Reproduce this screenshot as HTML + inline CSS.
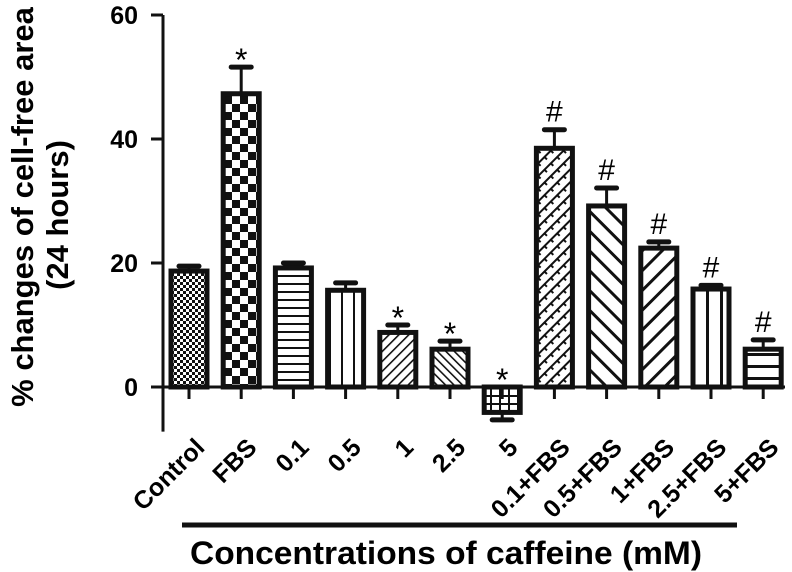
<!DOCTYPE html>
<html><head><meta charset="utf-8"><style>
html,body{margin:0;padding:0;background:#fff;}
svg{display:block;font-family:"Liberation Sans",Arial,sans-serif;font-weight:bold;}
</style></head><body>
<svg id="chart" width="792" height="572" viewBox="0 0 792 572">
<defs>
<pattern id="p0" width="6" height="6" patternUnits="userSpaceOnUse"><rect width="6" height="6" fill="#fff"/><rect width="3" height="3" fill="#111"/><rect x="3" y="3" width="3" height="3" fill="#111"/></pattern>
<pattern id="p1" width="16" height="16" patternUnits="userSpaceOnUse"><rect width="16" height="16" fill="#fff"/><rect width="8" height="8" fill="#111"/><rect x="8" y="8" width="8" height="8" fill="#111"/></pattern>
<pattern id="p2" width="10" height="8" patternUnits="userSpaceOnUse"><rect width="10" height="8" fill="#fff"/><rect y="3" width="10" height="2" fill="#111"/></pattern>
<pattern id="p3" width="12" height="10" patternUnits="userSpaceOnUse"><rect width="12" height="10" fill="#fff"/><rect x="5" width="2" height="10" fill="#111"/></pattern>
<pattern id="p4" width="7" height="7" patternUnits="userSpaceOnUse" patternTransform="rotate(45)"><rect width="7" height="7" fill="#fff"/><rect width="1.6" height="7" fill="#111"/></pattern>
<pattern id="p5" width="6" height="6" patternUnits="userSpaceOnUse" patternTransform="rotate(-45)"><rect width="6" height="6" fill="#fff"/><rect width="1.6" height="6" fill="#111"/></pattern>
<pattern id="p6" width="9" height="8" patternUnits="userSpaceOnUse"><rect width="9" height="8" fill="#fff"/><rect x="4" width="2" height="8" fill="#111"/><rect y="3" width="9" height="2" fill="#111"/></pattern>
<pattern id="p7" width="9" height="9" patternUnits="userSpaceOnUse" patternTransform="rotate(45)"><rect width="9" height="9" fill="#fff"/><rect width="2" height="9" fill="#111"/><rect y="4" width="4.5" height="2" fill="#111"/></pattern>
<pattern id="p8" width="14" height="14" patternUnits="userSpaceOnUse" patternTransform="rotate(-45)"><rect width="14" height="14" fill="#fff"/><rect width="3" height="14" fill="#111"/></pattern>
<pattern id="p9" width="14" height="14" patternUnits="userSpaceOnUse" patternTransform="rotate(45)"><rect width="14" height="14" fill="#fff"/><rect width="3" height="14" fill="#111"/></pattern>
<pattern id="p10" width="14" height="10" patternUnits="userSpaceOnUse"><rect width="14" height="10" fill="#fff"/><rect x="6" width="3" height="10" fill="#111"/></pattern>
<pattern id="p11" width="10" height="12" patternUnits="userSpaceOnUse"><rect width="10" height="12" fill="#fff"/><rect y="5" width="10" height="3" fill="#111"/></pattern>
</defs>
<g id="marks"></g>
<text x="0" y="0" transform="translate(33,207) rotate(-90)" text-anchor="middle" font-size="31">% changes of cell-free area</text>
<text x="0" y="0" transform="translate(68,215) rotate(-90)" text-anchor="middle" font-size="31">(24 hours)</text>
<line x1="182" y1="525" x2="737" y2="525" stroke="#111" stroke-width="5"/>
<text x="446" y="564" text-anchor="middle" font-size="32" textLength="512" lengthAdjust="spacingAndGlyphs">Concentrations of caffeine (mM)</text>
</svg>
<script>
const categories=["Control","FBS","0.1","0.5","1","2.5","5","0.1+FBS","0.5+FBS","1+FBS","2.5+FBS","5+FBS"];
const values=[18.7,47.3,19.2,15.6,8.8,6.1,-4.1,38.5,29.2,22.4,15.8,6.1];
const errors=[0.8,4.3,0.8,1.2,1.2,1.3,1.2,3.0,2.9,1.0,0.6,1.5];
const marks=["","*","","","*","*","*","#","#","#","#","#"];
const yTicks=[0,20,40,60];
const svgNS="http://www.w3.org/2000/svg";
const g=document.getElementById('marks');
const y=v=>387-v*6.2;
const x=i=>189+i*52.2;
function mk(t,a){const e=document.createElementNS(svgNS,t);for(const k in a)e.setAttribute(k,a[k]);g.appendChild(e);return e;}
let ax=mk('line',{x1:163,y1:y(60),x2:163,y2:y(-7.2),stroke:'#111','stroke-width':3});


yTicks.forEach(t=>{
 let l=mk('line',{x1:151,y1:y(t),x2:163,y2:y(t),stroke:'#111','stroke-width':3});
 
 
 let tx=mk('text',{x:138,y:y(t)+9,'text-anchor':'end','font-size':25});
 tx.textContent=t;
 
 
});
categories.forEach((c,i)=>{
 const cx=x(i),v=values[i],e=errors[i];
 const top=Math.min(y(v),y(0)),h=Math.abs(y(v)-y(0));
 const ey=v>=0?y(v+e):y(v-e);
 let el=mk('line',{x1:cx,y1:y(v),x2:cx,y2:ey,stroke:'#111','stroke-width':3});
 
 
 let cap=mk('line',{x1:cx-10,y1:ey,x2:cx+10,y2:ey,stroke:'#111','stroke-width':5,'stroke-linecap':'round'});
 
 
 let r=mk('rect',{x:cx-18,y:top,width:36,height:h,fill:'url(#p'+i+')',stroke:'#111','stroke-width':5});
 
 
 if(marks[i]){
  const my=v>=0?ey-8:y(0)-8;
  const star=marks[i]==='*';
  let m=mk('text',{x:cx,y:star?my+12:my,'text-anchor':'middle','font-size':star?32:30,'font-weight':'normal'});
  m.textContent=marks[i];
  
  
 }
 let tk=mk('line',{x1:cx,y1:y(0),x2:cx,y2:y(0)+12,stroke:'#111','stroke-width':3});
 
 
 let lb=mk('text',{x:0,y:0,transform:'translate('+(cx+17)+','+(y(0)+62)+') rotate(-45)','text-anchor':'end','font-size':25});
 lb.textContent=c;
 
 
});
let xa=mk('line',{x1:163,y1:y(0),x2:785,y2:y(0),stroke:'#111','stroke-width':3});


</script>
</body></html>
